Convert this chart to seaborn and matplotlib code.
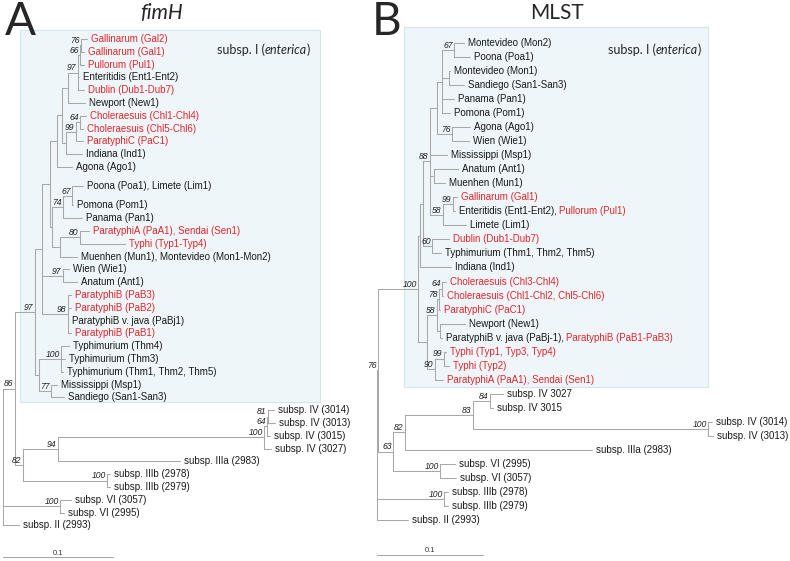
import matplotlib
matplotlib.use("Agg")
import matplotlib.pyplot as plt
import pandas as pd
import seaborn as sns
from matplotlib.patches import Rectangle

sns.set_theme(style="white")
plt.rcParams["font.family"] = ["Liberation Sans", "DejaVu Sans"]

RED = "#e3262c"
LINE = "#a8a8a8"

# ---------------- A: fimH tree ----------------
# internal nodes: name, parent, depth (subst./site), bootstrap
a_nodes = [
    ("root", None, 0.0, None),
    ("n86", "root", 0.0109, 86),
    ("n97big", "n86", 0.0291, 97),
    ("nA1", "n97big", 0.0355, None),
    ("nUp", "nA1", 0.0427, None),
    ("nG", "nUp", 0.0491, None),
    ("nGN", "nG", 0.0536, None),
    ("nNew", "nGN", 0.0591, None),
    ("n97", "nNew", 0.0682, 97),
    ("n66", "n97", 0.0700, 66),
    ("n76", "n66", 0.0709, 76),
    ("nChl", "nGN", 0.0573, None),
    ("n99", "nChl", 0.0664, 99),
    ("n64", "n99", 0.0700, 64),
    ("nP", "nUp", 0.0445, None),
    ("n74", "nP", 0.0545, 74),
    ("n67", "n74", 0.0627, 67),
    ("nM", "nP", 0.0518, None),
    ("n80", "nM", 0.0700, 80),
    ("n97w", "nA1", 0.0545, 97),
    ("n98", "nA1", 0.0591, 98),
    ("nT", "n97big", 0.0327, None),
    ("n100t", "nT", 0.0527, 100),
    ("n77", "nT", 0.0436, 77),
    ("n82", "n86", 0.0182, 82),
    ("n94", "n82", 0.0500, 94),
    ("n100iv", "n94", 0.2373, 100),
    ("n64iv", "n100iv", 0.2400, 64),
    ("n81", "n64iv", 0.2409, 81),
    ("n100b", "n82", 0.0945, 100),
    ("n100vi", "root", 0.0518, 100),
]

# leaves: label, parent, depth, row, red
a_leaves = [
    ("Gallinarum (Gal2)", "n76", 0.0764, 0, 1),
    ("Gallinarum (Gal1)", "n76", 0.0736, 1, 1),
    ("Pullorum (Pul1)", "n66", 0.0736, 2, 1),
    ("Enteritidis (Ent1-Ent2)", "n97", 0.0691, 3, 0),
    ("Dublin (Dub1-Dub7)", "n97", 0.0736, 4, 1),
    ("Newport (New1)", "nNew", 0.0745, 5, 0),
    ("Choleraesuis (Chl1-Chl4)", "n64", 0.0755, 6, 1),
    ("Choleraesuis (Chl5-Chl6)", "n64", 0.0727, 7, 1),
    ("ParatyphiC (PaC1)", "n99", 0.0727, 8, 1),
    ("Indiana (Ind1)", "nChl", 0.0718, 9, 0),
    ("Agona (Ago1)", "nG", 0.0627, 10, 0),
    ("Poona (Poa1), Limete (Lim1)", "n67", 0.0727, 11.5, 0),
    ("Pomona (Pom1)", "n67", 0.0636, 13, 0),
    ("Panama (Pan1)", "n74", 0.0718, 14, 0),
    ("ParatyphiA (PaA1), Sendai (Sen1)", "n80", 0.0782, 15, 1),
    ("Typhi (Typ1-Typ4)", "n80", 0.1109, 16, 1),
    ("Muenhen (Mun1), Montevideo (Mon1-Mon2)", "nM", 0.0673, 17, 0),
    ("Wien (Wie1)", "n97w", 0.0600, 18, 0),
    ("Anatum (Ant1)", "n97w", 0.0673, 19, 0),
    ("ParatyphiB (PaB3)", "n98", 0.0618, 20, 1),
    ("ParatyphiB (PaB2)", "n98", 0.0618, 21, 1),
    ("ParatyphiB v. java (PaBj1)", "n98", 0.0591, 22, 0),
    ("ParatyphiB (PaB1)", "n98", 0.0618, 23, 1),
    ("Typhimurium (Thm4)", "n100t", 0.0600, 24, 0),
    ("Typhimurium (Thm3)", "n100t", 0.0564, 25, 0),
    ("Typhimurium (Thm1, Thm2, Thm5)", "n100t", 0.0545, 26, 0),
    ("Mississippi (Msp1)", "n77", 0.0491, 27, 0),
    ("Sandiego (San1-San3)", "n77", 0.0555, 28, 0),
    ("subsp. IV (3014)", "n81", 0.2464, 29, 0),
    ("subsp. IV (3013)", "n81", 0.2473, 30, 0),
    ("subsp. IV (3015)", "n64iv", 0.2427, 31, 0),
    ("subsp. IV (3027)", "n100iv", 0.2436, 32, 0),
    ("subsp. IIIa (2983)", "n94", 0.1609, 33, 0),
    ("subsp. IIIb (2978)", "n100b", 0.0973, 34, 0),
    ("subsp. IIIb (2979)", "n100b", 0.0973, 35, 0),
    ("subsp. VI (3057)", "n100vi", 0.0618, 36, 0),
    ("subsp. VI (2995)", "n100vi", 0.0555, 37, 0),
    ("subsp. II (2993)", "root", 0.0145, 38, 0),
]

# ---------------- B: MLST tree ----------------
b_nodes = [
    ("root", None, 0.0, None),
    ("n76", "root", 0.0009, 76),
    ("n100", "n76", 0.0387, 100),
    ("nU", "n100", 0.0406, None),
    ("nV", "nU", 0.0434, None),
    ("nW", "nV", 0.0500, 88),
    ("nTop", "nW", 0.0566, None),
    ("nMP", "nTop", 0.0613, None),
    ("n67", "nMP", 0.0726, 67),
    ("nMS", "nMP", 0.0679, None),
    ("n76u", "nTop", 0.0708, 76),
    ("nAM", "nW", 0.0538, None),
    ("n58u", "nW", 0.0623, 58),
    ("n99u", "n58u", 0.0717, 99),
    ("n60", "nV", 0.0519, 60),
    ("nX", "n100", 0.0472, None),
    ("n58", "nX", 0.0566, 58),
    ("n78", "n58", 0.0585, 78),
    ("n64", "n78", 0.0613, 64),
    ("nNP", "n58", 0.0594, None),
    ("n90", "nX", 0.0547, 90),
    ("n99", "n90", 0.0632, 99),
    ("n63", "n76", 0.0151, 63),
    ("n82", "n63", 0.0264, 82),
    ("n83", "n82", 0.0906, 83),
    ("n84", "n83", 0.1066, 84),
    ("n100iv", "n83", 0.3123, 100),
    ("n100vi", "n63", 0.0594, 100),
    ("n100b", "root", 0.0632, 100),
]

b_leaves = [
    ("Montevideo (Mon2)", "n67", 0.0821, 0, 0),
    ("Poona (Poa1)", "n67", 0.0877, 1, 0),
    ("Montevideo (Mon1)", "nMS", 0.0689, 2, 0),
    ("Sandiego (San1-San3)", "nMS", 0.0821, 3, 0),
    ("Panama (Pan1)", "nMP", 0.0726, 4, 0),
    ("Pomona (Pom1)", "nMP", 0.0689, 5, 0),
    ("Agona (Ago1)", "n76u", 0.0877, 6, 0),
    ("Wien (Wie1)", "n76u", 0.0868, 7, 0),
    ("Mississippi (Msp1)", "nW", 0.0660, 8, 0),
    ("Anatum (Ant1)", "nAM", 0.0764, 9, 0),
    ("Muenhen (Mun1)", "nAM", 0.0642, 10, 0),
    ("Gallinarum (Gal1)", "n99u", 0.0755, 11, 1),
    ("Enteritidis (Ent1-Ent2), ", "n99u", 0.0736, 12, 0),
    ("Limete (Lim1)", "n58u", 0.0840, 13, 0),
    ("Dublin (Dub1-Dub7)", "n60", 0.0679, 14, 1),
    ("Typhimurium (Thm1, Thm2, Thm5)", "n60", 0.0604, 15, 0),
    ("Indiana (Ind1)", "nU", 0.0698, 16, 0),
    ("Choleraesuis (Chl3-Chl4)", "n64", 0.0651, 17, 1),
    ("Choleraesuis (Chl1-Chl2, Chl5-Chl6)", "n64", 0.0623, 18, 1),
    ("ParatyphiC (PaC1)", "n78", 0.0594, 19, 1),
    ("Newport (New1)", "nNP", 0.0830, 20, 0),
    ("ParatyphiB v. java (PaBj-1), ", "nNP", 0.0613, 21, 0),
    ("Typhi (Typ1, Typ3, Typ4)", "n99", 0.0651, 22, 1),
    ("Typhi (Typ2)", "n99", 0.0679, 23, 1),
    ("ParatyphiA (PaA1), Sendai (Sen1)", "n90", 0.0623, 24, 1),
    ("subsp. IV 3027", "n84", 0.1189, 25, 0),
    ("subsp. IV 3015", "n84", 0.1094, 26, 0),
    ("subsp. IV (3014)", "n100iv", 0.3160, 27, 0),
    ("subsp. IV (3013)", "n100iv", 0.3170, 28, 0),
    ("subsp. IIIa (2983)", "n82", 0.2028, 29, 0),
    ("subsp. VI (2995)", "n100vi", 0.0736, 30, 0),
    ("subsp. VI (3057)", "n100vi", 0.0745, 31, 0),
    ("subsp. IIIb (2978)", "n100b", 0.0670, 32, 0),
    ("subsp. IIIb (2979)", "n100b", 0.0670, 33, 0),
    ("subsp. II (2993)", "root", 0.0292, 34, 0),
]
# red second part of two-coloured labels (by row)
b_suffix = {12: "Pullorum (Pul1)", 21: "ParatyphiB (PaB1-PaB3)"}

scale_len = 0.1


def tree_segments(nodes, leaves):
    depth = {n[0]: n[2] for n in nodes}
    parent = {n[0]: n[1] for n in nodes}
    kids = {n[0]: [] for n in nodes}
    ys = {}
    for i, lf in enumerate(leaves):
        key = ("leaf", i)
        depth[key] = lf[2]
        parent[key] = lf[1]
        ys[key] = lf[3]
        kids[lf[1]].append(key)
    for n in nodes:
        if n[1] is not None:
            kids[n[1]].append(n[0])

    def get_y(k):
        if k not in ys:
            cy = [get_y(c) for c in kids[k]]
            ys[k] = (min(cy) + max(cy)) / 2
        return ys[k]

    rows = []
    seg = 0
    for k in list(depth.keys()):
        y = get_y(k)
        if parent[k] is not None:
            rows += [(seg, depth[parent[k]], y), (seg, depth[k], y)]
            seg += 1
        if k in kids and kids[k]:
            cy = [get_y(c) for c in kids[k]]
            rows += [(seg, depth[k], min(cy)), (seg, depth[k], max(cy))]
            seg += 1
    return pd.DataFrame(rows, columns=["seg", "x", "y"]), ys


def draw_tree(ax, nodes, leaves, suffix, xlim, ylim):
    df, ys = tree_segments(nodes, leaves)
    last = max(lf[3] for lf in leaves)
    bar = pd.DataFrame({"seg": [0, 0], "x": [0, scale_len],
                        "y": [last + 2.5, last + 2.5]})
    sns.lineplot(data=df, x="x", y="y", units="seg", estimator=None,
                 sort=False, color=LINE, lw=0.75, ax=ax, legend=False)
    sns.lineplot(data=bar, x="x", y="y", units="seg", estimator=None,
                 sort=False, color=LINE, lw=0.75, ax=ax, legend=False)
    ax.annotate(f"{scale_len:g}", (scale_len / 2, last + 2.5), xytext=(0, 3),
                textcoords="offset points", ha="center", va="center",
                fontsize=5.5, color="#333333")
    for i, (lab, par, d, r, red) in enumerate(leaves):
        t = ax.annotate(lab, (d, r), xytext=(2.6, 0), textcoords="offset points",
                        ha="left", va="center", fontsize=7,
                        color=RED if red else "#1a1a1a")
        if r in suffix:
            ax.annotate(suffix[r], xy=(1, 0.5), xycoords=t, ha="left",
                        va="center", fontsize=7, color=RED)
    for name, par, d, sup in nodes:
        if sup is not None:
            ax.annotate(str(sup), (d, ys[name]), xytext=(-1.0, 3.4),
                        textcoords="offset points", ha="right", va="center",
                        fontsize=6.2, style="italic", color="#222222")
    ax.set_xlim(*xlim)
    ax.set_ylim(*ylim)
    ax.set_axis_off()


W, H = 790, 561
fig = plt.figure(figsize=(W / 100, H / 100), dpi=100)

ax_a = fig.add_axes([0, 0, 395 / W, 1])
ax_b = fig.add_axes([370 / W, 0, 420 / W, 1])
for ax in (ax_a, ax_b):
    ax.patch.set_alpha(0)
    ax.set_zorder(2)

# shaded subsp. I boxes (figure pixels), drawn below the trees
bg = fig.add_axes([0, 0, 1, 1], zorder=0)
bg.set_xlim(0, W)
bg.set_ylim(H, 0)
bg.set_axis_off()
for x0, y0, x1, y1 in [(20, 30, 320, 402), (404, 27, 708, 387)]:
    bg.add_patch(Rectangle((x0, y0), x1 - x0, y1 - y0, facecolor="#eef6f9",
                           edgecolor="#d3e6ec", lw=0.8))

title_font = ["Lato", "DejaVu Sans"]
bg.text(5, 1, "A", fontsize=33, ha="left", va="top", family=title_font)
bg.text(372, 1, "B", fontsize=33, ha="left", va="top", family=title_font)
bg.text(162, 13, "fimH", fontsize=15, style="italic", ha="center",
        va="center", family=title_font)
bg.text(557, 13, "MLST", fontsize=15, ha="center", va="center",
        family=title_font)

for x0 in (217, 608):
    t1 = bg.text(x0, 50, "subsp. I (", fontsize=9, ha="left",
                 va="center", family=title_font)
    t2 = bg.annotate("enterica", xy=(1, 0.5), xycoords=t1, ha="left", va="center",
                     fontsize=9, style="italic", family=title_font)
    bg.annotate(")", xy=(1, 0.5), xycoords=t2, ha="left", va="center",
                fontsize=9, family=title_font)

draw_tree(ax_a, a_nodes, a_leaves, {}, (-3 / 1100, 392 / 1100),
          ((H - 39) / 12.8, -39 / 12.8))
draw_tree(ax_b, b_nodes, b_leaves, b_suffix, (-7 / 1060, 413 / 1060),
          ((H - 43) / 14.03, -43 / 14.03))

fig.savefig("out.png", dpi=100)
